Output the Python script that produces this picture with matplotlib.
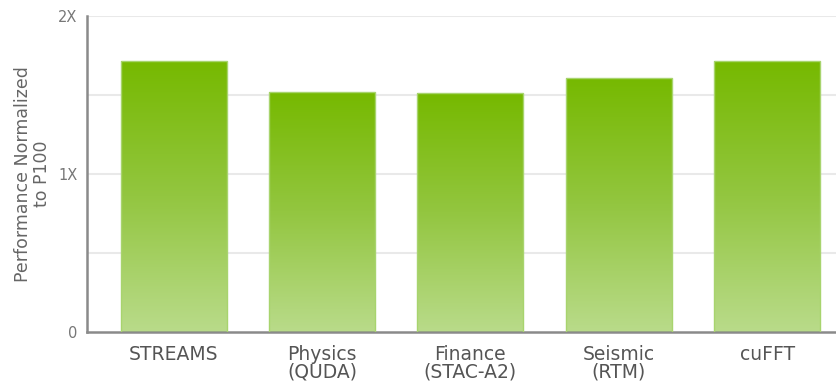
import matplotlib
matplotlib.use("Agg")
import matplotlib.pyplot as plt
import numpy as np
from matplotlib.colors import LinearSegmentedColormap

# data
categories = ["STREAMS", "Physics\n(QUDA)", "Finance\n(STAC-A2)", "Seismic\n(RTM)", "cuFFT"]
values = [1.715, 1.52, 1.51, 1.61, 1.715]
yticks = [0, 1, 2]
yticklabels = ["0", "1X", "2X"]

fig = plt.figure(figsize=(8.37, 3.87), dpi=100)
ax = fig.add_axes([0.104, 0.142, 0.896, 0.817])

x = np.arange(len(categories))
bars = ax.bar(x, values, width=0.714, color="none", edgecolor="#a8d46e", linewidth=1.0, zorder=3)

# vertical gradient inside each bar: green top -> pale green bottom
cmap = LinearSegmentedColormap.from_list("grn", ["#b9db8a", "#93c640", "#76b900"])
grad = np.linspace(0, 1, 256).reshape(-1, 1)
for b in bars:
    x0, y0 = b.get_x(), b.get_y()
    w, h = b.get_width(), b.get_height()
    im = ax.imshow(grad, cmap=cmap, origin="lower", aspect="auto",
                   extent=[x0, x0 + w, y0, y0 + h], zorder=2)
    im.set_clip_path(b)

ax.set_xlim(-0.583, 4.47)
ax.set_ylim(0, 2)

# light grid at half steps
for g in [0.5, 1.0, 1.5, 2.0]:
    ax.axhline(g, color="#e9e9e9", linewidth=1.5, zorder=1)

ax.set_yticks(yticks)
ax.set_yticklabels(yticklabels, fontsize=10.5, color="#777777")
ax.set_xticks(x)
ax.set_xticklabels(categories, fontsize=13.5, color="#555555", linespacing=0.95)
ax.tick_params(axis="both", length=0)
ax.tick_params(axis="x", pad=9)
ax.tick_params(axis="y", pad=7)

for s in ["top", "right"]:
    ax.spines[s].set_visible(False)
ax.spines["left"].set_color("#8a8a8a")
ax.spines["bottom"].set_color("#8a8a8a")
ax.spines["left"].set_linewidth(1.8)
ax.spines["bottom"].set_linewidth(1.8)

ax.set_ylabel("Performance Normalized\nto P100", fontsize=12.5, color="#666666",
              labelpad=5, linespacing=1.05)

fig.savefig("out.png", dpi=100)
